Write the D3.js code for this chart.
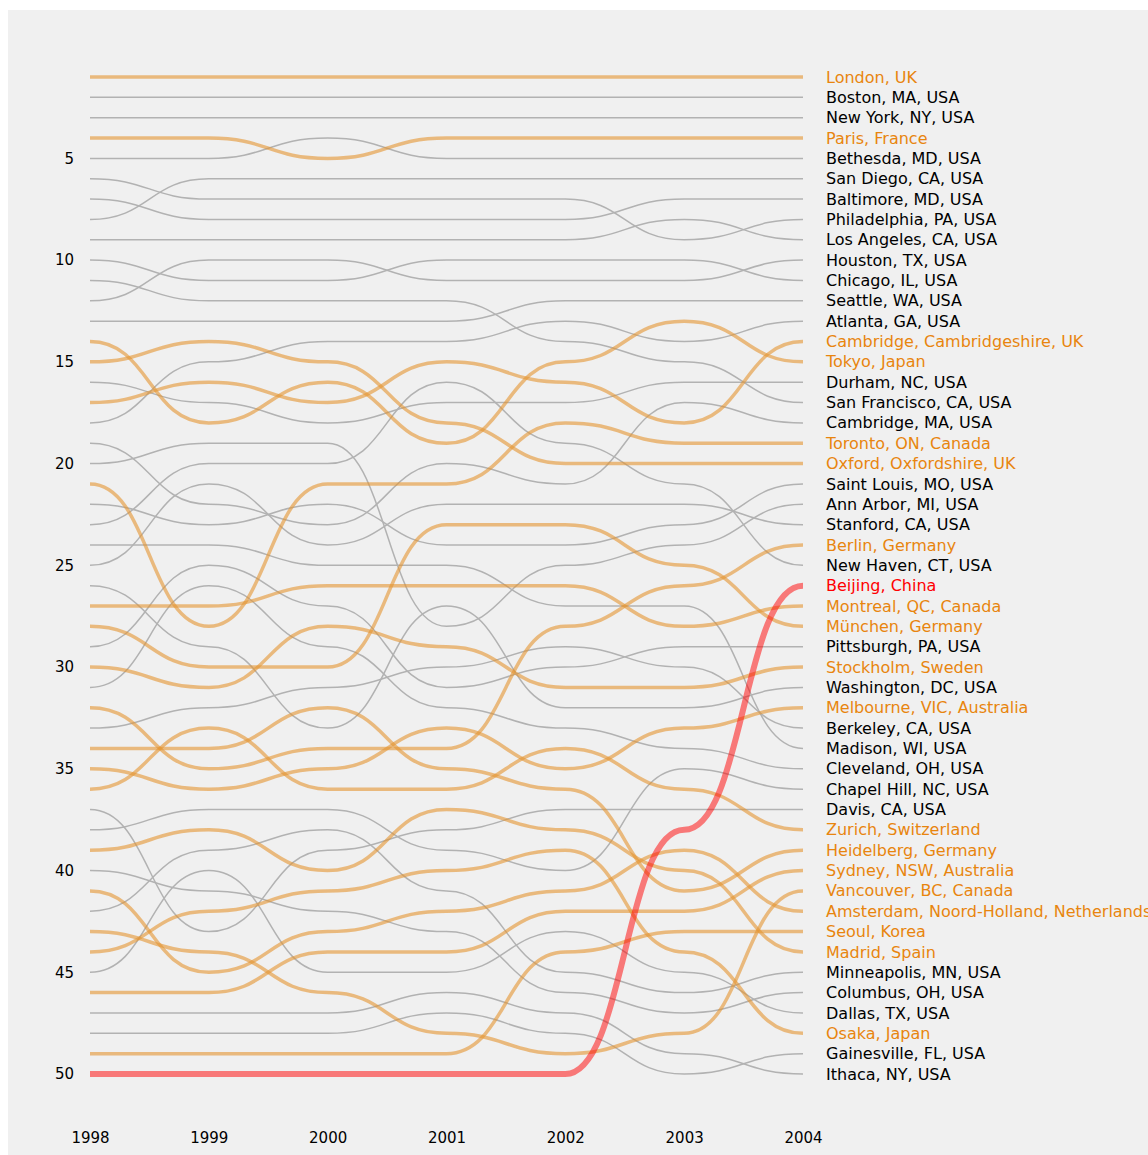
<!DOCTYPE html>
<html><head><meta charset="utf-8">
<script src="https://cdn.jsdelivr.net/npm/d3@7"></script>
<style>html,body{margin:0;padding:0;background:#ffffff}</style>
</head><body>
<svg id="chart" width="1148" height="1155"></svg>
<script>
const years = [1998, 1999, 2000, 2001, 2002, 2003, 2004];
const yTicks = [5, 10, 15, 20, 25, 30, 35, 40, 45, 50];

const cities = [
  "London, UK", "Boston, MA, USA", "New York, NY, USA", "Paris, France",
  "Bethesda, MD, USA", "San Diego, CA, USA", "Baltimore, MD, USA",
  "Philadelphia, PA, USA", "Los Angeles, CA, USA", "Houston, TX, USA",
  "Chicago, IL, USA", "Seattle, WA, USA", "Atlanta, GA, USA",
  "Cambridge, Cambridgeshire, UK", "Tokyo, Japan", "Durham, NC, USA",
  "San Francisco, CA, USA", "Cambridge, MA, USA", "Toronto, ON, Canada",
  "Oxford, Oxfordshire, UK", "Saint Louis, MO, USA", "Ann Arbor, MI, USA",
  "Stanford, CA, USA", "Berlin, Germany", "New Haven, CT, USA",
  "Beijing, China", "Montreal, QC, Canada", "München, Germany",
  "Pittsburgh, PA, USA", "Stockholm, Sweden", "Washington, DC, USA",
  "Melbourne, VIC, Australia", "Berkeley, CA, USA", "Madison, WI, USA",
  "Cleveland, OH, USA", "Chapel Hill, NC, USA", "Davis, CA, USA",
  "Zurich, Switzerland", "Heidelberg, Germany", "Sydney, NSW, Australia",
  "Vancouver, BC, Canada", "Amsterdam, Noord-Holland, Netherlands",
  "Seoul, Korea", "Madrid, Spain", "Minneapolis, MN, USA",
  "Columbus, OH, USA", "Dallas, TX, USA", "Osaka, Japan",
  "Gainesville, FL, USA", "Ithaca, NY, USA"
];

// rank of each city in 1998..2004 (same order as cities)
const ranks = [
  [1,1,1,1,1,1,1],
  [2,2,2,2,2,2,2],
  [3,3,3,3,3,3,3],
  [4,4,5,4,4,4,4],
  [5,5,4,5,5,5,5],
  [8,6,6,6,6,6,6],
  [7,8,8,8,8,7,7],
  [6,7,7,7,7,9,8],
  [9,9,9,9,9,8,9],
  [12,10,10,11,11,11,10],
  [10,11,11,10,10,10,11],
  [13,13,13,13,12,12,12],
  [18,15,14,14,13,14,13],
  [17,16,17,15,16,18,14],
  [14,18,16,19,15,13,15],
  [16,17,18,17,17,16,16],
  [11,12,12,12,14,15,17],
  [19,22,23,20,21,17,18],
  [21,28,21,21,18,19,19],
  [15,14,15,18,20,20,20],
  [22,23,22,24,24,23,21],
  [20,19,19,28,25,24,22],
  [25,21,24,22,22,22,23],
  [32,35,34,34,28,26,24],
  [23,20,20,16,19,21,25],
  [50,50,50,50,50,38,26],
  [27,27,26,26,26,28,27],
  [28,30,30,23,23,25,28],
  [29,25,27,31,30,29,29],
  [30,31,28,29,31,31,30],
  [26,29,33,27,32,32,31],
  [35,36,35,33,35,33,32],
  [33,32,31,30,29,30,33],
  [24,24,25,25,27,27,34],
  [31,26,29,32,33,34,35],
  [38,37,37,39,40,35,36],
  [37,43,39,38,37,37,37],
  [36,33,36,36,34,36,38],
  [34,34,32,35,36,41,39],
  [46,46,44,44,42,42,40],
  [43,44,46,48,49,48,41],
  [41,45,43,42,41,39,42],
  [49,49,49,49,44,43,43],
  [39,38,40,37,38,40,44],
  [42,39,38,41,45,46,45],
  [40,41,42,43,46,47,46],
  [45,40,45,45,43,45,47],
  [44,42,41,40,39,44,48],
  [48,48,48,47,48,50,49],
  [47,47,47,46,47,49,50]
];

const nonUS = [
  "London, UK", "Paris, France", "Cambridge, Cambridgeshire, UK", "Tokyo, Japan",
  "Toronto, ON, Canada", "Oxford, Oxfordshire, UK", "Berlin, Germany",
  "Montreal, QC, Canada", "München, Germany", "Stockholm, Sweden",
  "Melbourne, VIC, Australia", "Zurich, Switzerland", "Heidelberg, Germany",
  "Sydney, NSW, Australia", "Vancouver, BC, Canada",
  "Amsterdam, Noord-Holland, Netherlands", "Seoul, Korea", "Madrid, Spain",
  "Osaka, Japan"
];
const focusCity = "Beijing, China";

const W = 1148, H = 1155;
const svg = d3.select("#chart");

svg.append("rect").attr("x", 8).attr("y", 10).attr("width", W - 8).attr("height", H - 10)
  .attr("fill", "#f0f0f0");

const x = d3.scaleLinear().domain([1998, 2004]).range([90, 803]);
const y = d3.scaleLinear().domain([1, 50]).range([77, 1074]);

const series = cities.map((c, i) => ({
  city: c,
  kind: c === focusCity ? "focus" : (nonUS.includes(c) ? "nonus" : "us"),
  pts: years.map((yr, j) => ({ year: yr, rank: ranks[i][j] }))
}));

const line = d3.line()
  .x(d => x(d.year))
  .y(d => y(d.rank))
  .curve(d3.curveBumpX);

const style = {
  us: { stroke: "#b2b2b2", width: 1.5, opacity: 1 },
  nonus: { stroke: "#e59530", width: 3.5, opacity: 0.6 },
  focus: { stroke: "#ff0000", width: 6, opacity: 0.5 }
};
const order = { us: 0, nonus: 1, focus: 2 };

const g = svg.append("g");
g.selectAll("path.series")
  .data(series.slice().sort((a, b) => order[a.kind] - order[b.kind]))
  .join("path")
  .attr("class", "series")
  .attr("d", d => line(d.pts))
  .attr("fill", "none")
  .attr("stroke", d => style[d.kind].stroke)
  .attr("stroke-width", d => style[d.kind].width)
  .attr("stroke-opacity", d => style[d.kind].opacity)
  .attr("stroke-linecap", "butt");

// right-hand labels
const labelColor = { us: "#000000", nonus: "#e8850e", focus: "#ff0000" };
g.selectAll("text.lab")
  .data(series)
  .join("text")
  .attr("class", "lab")
  .attr("x", x(2004) + 23)
  .attr("y", d => y(d.pts[d.pts.length - 1].rank))
  .attr("dy", "0.35em")
  .attr("font-family", "DejaVu Sans, sans-serif")
  .attr("font-size", 16)
  .attr("fill", d => labelColor[d.kind])
  .text(d => d.city);

// y axis
const yAxis = d3.axisLeft(y).tickValues(yTicks).tickSize(0).tickPadding(0);
const ya = svg.append("g").attr("transform", "translate(74,0)").call(yAxis);
ya.select(".domain").remove();
ya.selectAll("text").attr("font-family", "DejaVu Sans, sans-serif").attr("font-size", 15)
  .attr("fill", "#000").attr("text-anchor", "end").attr("x", 0);

// x axis
const xAxis = d3.axisBottom(x).tickValues(years).tickFormat(d3.format("d")).tickSize(0).tickPadding(0);
const xa = svg.append("g").attr("transform", "translate(0,1132)").call(xAxis);
xa.select(".domain").remove();
xa.selectAll("text").attr("font-family", "DejaVu Sans, sans-serif").attr("font-size", 15)
  .attr("fill", "#000");
</script>
</body></html>
